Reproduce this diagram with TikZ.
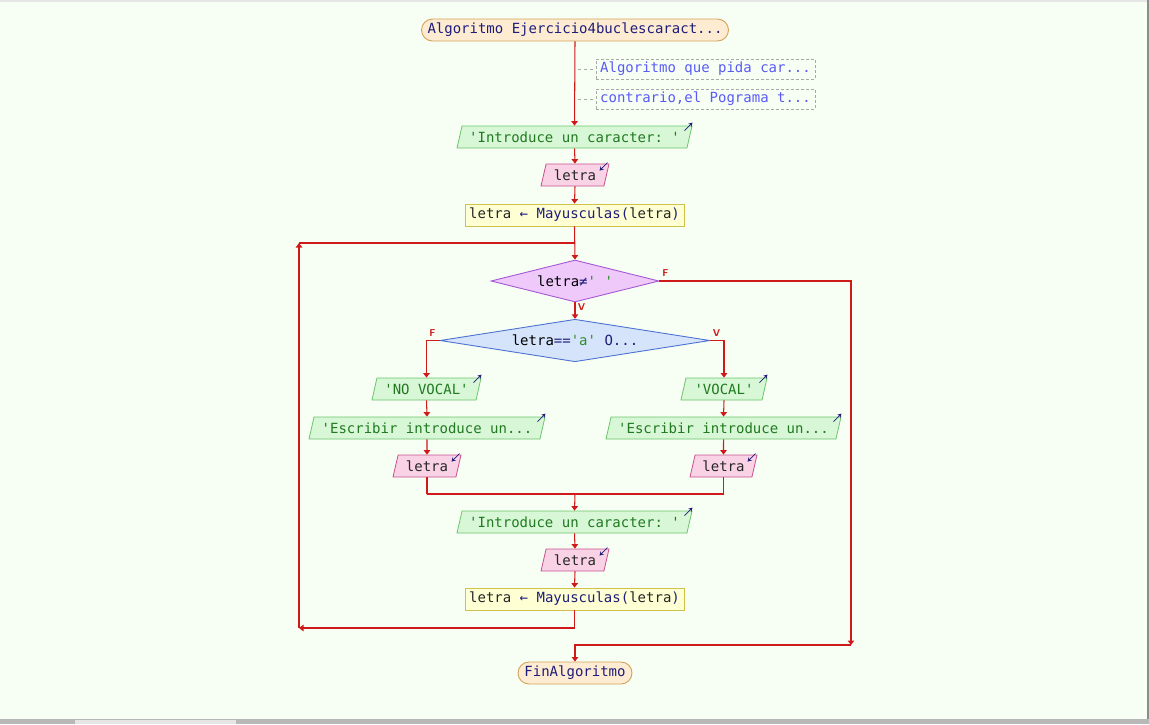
\documentclass[tikz,border=0pt]{standalone}
\usepackage{fontspec}
\setmonofont{DejaVu Sans Mono}
\usetikzlibrary{shapes.geometric,arrows.meta,calc}

\definecolor{bgc}{HTML}{F7FFF4}
\definecolor{flowc}{HTML}{D01A1A}
\definecolor{navy}{HTML}{1E1E7A}
\definecolor{outfill}{HTML}{D8F7D6}
\definecolor{outdraw}{HTML}{6CC46C}
\definecolor{outtext}{HTML}{217A21}
\definecolor{infill}{HTML}{F9D2E6}
\definecolor{indraw}{HTML}{C8508C}
\definecolor{asfill}{HTML}{FFFFD4}
\definecolor{asdraw}{HTML}{CFC24A}
\definecolor{termfill}{HTML}{FDEBD2}
\definecolor{termdraw}{HTML}{D5A258}
\definecolor{d1fill}{HTML}{EFC9F9}
\definecolor{d1draw}{HTML}{A557D6}
\definecolor{d2fill}{HTML}{D6E4FB}
\definecolor{d2draw}{HTML}{4D72D2}
\definecolor{cmtext}{HTML}{5A5AF5}
\definecolor{cmdraw}{HTML}{A8A8A8}
\definecolor{strc}{HTML}{2E8B2E}

\newcommand{\mono}{\ttfamily\fontsize{14}{16}\selectfont}

\tikzset{
  every node/.style={font=\mono, inner sep=0pt},
  flow/.style={draw=flowc, line width=1.05pt},
  tip/.style={-{Triangle[width=6.5pt,length=4.5pt]}},
  term/.style={draw=termdraw, fill=termfill, line width=0.9pt, rounded corners=11pt,
    minimum height=22pt, text=navy},
  outbox/.style={shape=trapezium, trapezium left angle=65, trapezium right angle=115,
    trapezium stretches body=true, draw=outdraw, fill=outfill, line width=0.8pt,
    minimum height=22pt, text=outtext},
  inbox/.style={shape=trapezium, trapezium left angle=65, trapezium right angle=115,
    trapezium stretches body=true, draw=indraw, fill=infill, line width=0.8pt,
    minimum height=22pt, text=black!85},
  asbox/.style={draw=asdraw, fill=asfill, line width=0.8pt, minimum height=22pt,
    text=black!85},
  cmbox/.style={draw=cmdraw, densely dashed, line width=0.8pt, minimum height=20pt,
    text=cmtext},
  cmlink/.style={draw=cmdraw, dashed, line width=0.8pt},
  cond/.style={shape=diamond, aspect=4, line width=0.9pt},
  lab/.style={font=\sffamily\bfseries\fontsize{10}{11}\selectfont, text=flowc},
  icon/.style={draw=navy, line width=0.75pt, -{Stealth[width=4.5pt,length=4pt]}},
}

\newcommand{\asg}{letra {\color{navy}←} {\color{navy}Mayusculas(}letra{\color{navy})}}

\begin{document}
\begin{tikzpicture}[x=1pt,y=-1pt]
  % window background and frame
  \fill[bgc] (0,0) rectangle (1149,724);
  \useasboundingbox (0,0) rectangle (1149,724);
  \fill[black!10] (0,0) rectangle (1149,1.5);
  \fill[black!45] (1147,0) rectangle (1149,719);
  \fill[black!28] (0,719) rectangle (1149,724);
  \fill[black!10] (75,720) rectangle (236,724);

  % nodes
  \node[term, minimum width=307pt] (start) at (575,30)
    {{\color{navy}Algoritmo} Ejercicio4buclescaract...};
  \node[cmbox, minimum width=219pt] (cm1) at (705.5,69) {Algoritmo que pida car...};
  \node[cmbox, minimum width=219pt] (cm2) at (705.5,99) {contrario,el Pograma t...};
  \coordinate (cm1l) at (578,69);
  \coordinate (cm2l) at (578,99);

  \node[outbox, minimum width=235pt] (out1) at (574.5,137) {'Introduce un caracter: '};
  \node[inbox, minimum width=68pt] (in1) at (575,175) {letra};
  \node[asbox, minimum width=219pt] (as1) at (574.5,215) {\asg};

  \node[cond, fill=d1fill, draw=d1draw, minimum width=168pt, minimum height=42pt]
    (d1) at (575,281) {letra{\color{navy}≠}{\color{strc}' '}};
  \node[cond, fill=d2fill, draw=d2draw, minimum width=270pt, minimum height=41pt]
    (d2) at (575,340.5) {letra{\color{navy}==}{\color{strc}'a'} {\color{navy}O...}};

  \node[outbox, minimum width=109pt] (nov) at (426.5,389) {'NO VOCAL'};
  \node[outbox, minimum width=236pt] (escL) at (427,428) {'Escribir introduce un...};
  \node[inbox, minimum width=68pt] (inL) at (427,466) {letra};

  \node[outbox, minimum width=86pt] (voc) at (724,389) {'VOCAL'};
  \node[outbox, minimum width=235pt] (escR) at (723.5,428) {'Escribir introduce un...};
  \node[inbox, minimum width=67pt] (inR) at (723.5,466) {letra};

  \node[outbox, minimum width=235pt] (out2) at (574.5,522) {'Introduce un caracter: '};
  \node[inbox, minimum width=68pt] (in2) at (575,560) {letra};
  \node[asbox, minimum width=219pt] (as2) at (574.5,599) {\asg};

  \node[term, minimum width=114pt] (fin) at (575,673) {FinAlgoritmo};

  % routing points
  \coordinate (lbl) at (299,628);
  \coordinate (ltl) at (299,243);
  \coordinate (ltr) at (575,243);
  \coordinate (xr) at (851,645);
  \coordinate (ml) at (427,494);
  \coordinate (mm) at (575,494);
  \coordinate (mr) at (723.5,494);

  % comment links
  \draw[cmlink] (cm1l) -- (cm1.west);
  \draw[cmlink] (cm2l) -- (cm2.west);

  % main flow
  \draw[flow,tip] (start.south) -- (out1.north);
  \draw[flow,tip] (out1.south) -- (in1.north);
  \draw[flow,tip] (in1.south) -- (as1.north);
  \draw[flow,tip] (as1.south) -- (d1.north);
  \draw[flow,tip] (d1.south) -- (d2.north);

  \draw[flow,tip] (d2.west) -| (nov.north);
  \draw[flow,tip] (nov.south) -- (escL.north);
  \draw[flow,tip] (escL.south) -- (inL.north);
  \draw[flow,tip] (d2.east) -| (voc.north);
  \draw[flow,tip] (voc.south) -- (escR.north);
  \draw[flow,tip] (escR.south) -- (inR.north);

  \draw[flow] (inL.south) |- (ml) -- (mr) -| (inR.south);
  \draw[flow,tip] (mm) -- (out2.north);
  \draw[flow,tip] (out2.south) -- (in2.north);
  \draw[flow,tip] (in2.south) -- (as2.north);

  % loop back
  \draw[flow,tip] (as2.south) |- (lbl);
  \draw[flow,tip] (lbl) -- (ltl);
  \draw[flow] (ltl) -- (ltr);

  % exit
  \draw[flow,tip] (d1.east) -| (xr);
  \draw[flow,tip] (xr) -| (fin.north);

  % branch labels
  \node[lab] at (665.5,273.5) {F};
  \node[lab] at (581.5,307.5) {V};
  \node[lab] at (432.5,333.5) {F};
  \node[lab] at (716.5,333.5) {V};

  % output / input markers
  \foreach \n in {out1,nov,escL,voc,escR,out2}
    \draw[icon] ($(\n.top right corner)+(-8,5)$) -- ($(\n.top right corner)+(0,-3)$);
  \foreach \n in {in1,inL,inR,in2}
    \draw[icon] ($(\n.top right corner)+(-2,-1)$) -- ($(\n.top right corner)+(-10,7)$);
\end{tikzpicture}
\end{document}
